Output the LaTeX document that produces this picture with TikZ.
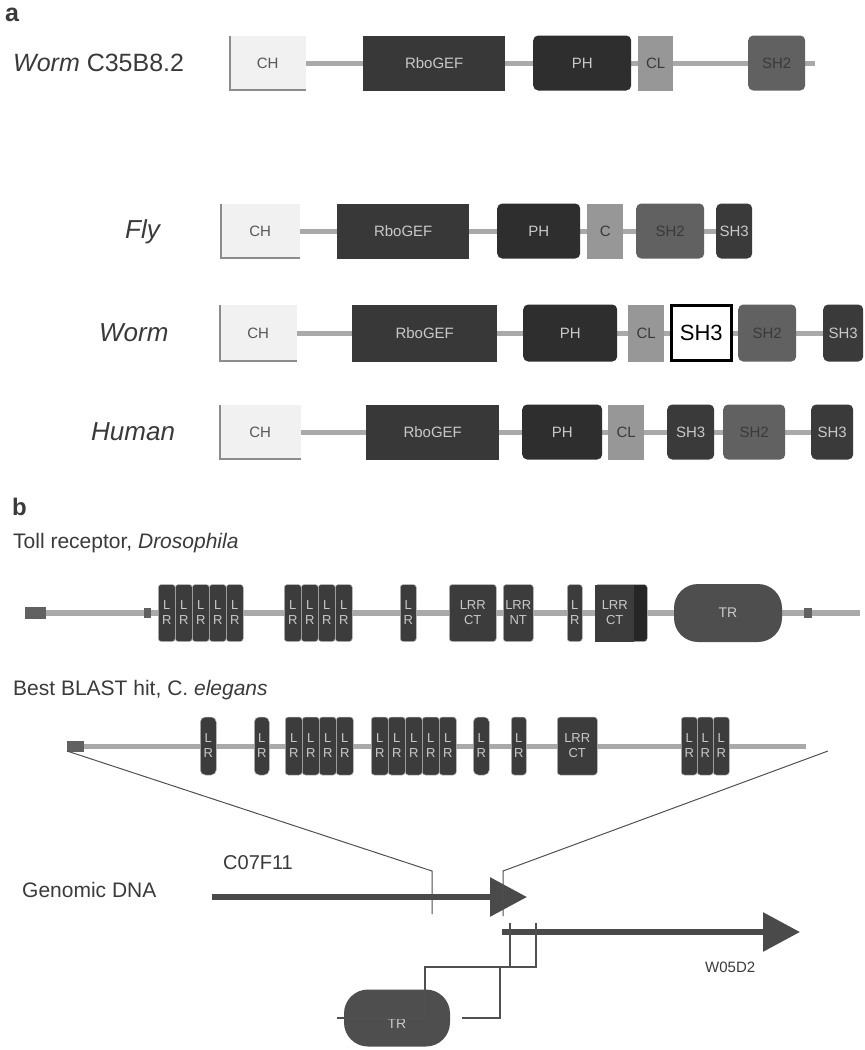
\documentclass[tikz,border=0pt]{standalone}
\usepackage{fontspec}
\setmainfont{Liberation Sans}
\usetikzlibrary{backgrounds,arrows.meta}

\definecolor{bbone}{HTML}{A9A9A9}
\definecolor{chfill}{HTML}{F1F1F1}
\definecolor{chedge}{HTML}{8C8C8C}
\definecolor{gefc}{HTML}{383838}
\definecolor{phc}{HTML}{2E2E2E}
\definecolor{clc}{HTML}{979797}
\definecolor{shtwoc}{HTML}{616161}
\definecolor{shthreec}{HTML}{3A3A3A}
\definecolor{lrc}{HTML}{3C3C3C}
\definecolor{trc}{HTML}{4E4E4E}
\definecolor{lighttxt}{HTML}{C9C9C9}
\definecolor{darktxt}{HTML}{3A3A3A}
\definecolor{wire}{HTML}{505050}
\definecolor{dnac}{HTML}{4A4A4A}

\tikzset{
  dom/.style={inner sep=0pt, anchor=west, minimum height=55pt,
    font=\fontsize{15}{17}\selectfont},
  chbox/.style={dom, fill=chfill, text=darktxt!85,
    path picture={\draw[chedge, line width=3pt]
      (path picture bounding box.north west) --
      (path picture bounding box.south west) --
      (path picture bounding box.south east);}},
  gefbox/.style={dom, fill=gefc, text=lighttxt},
  phbox/.style={dom, fill=phc, rounded corners=5pt, text=lighttxt},
  clbox/.style={dom, fill=clc, text=darktxt},
  shtwobox/.style={dom, fill=shtwoc, rounded corners=5pt, text=darktxt},
  shthreebox/.style={dom, fill=shthreec, rounded corners=5pt, text=lighttxt},
  openbox/.style={dom, fill=white, draw=black, line width=2.5pt,
    font=\fontsize{22}{24}\selectfont, text=black},
  backbone/.style={bbone, line width=5pt},
  lrbox/.style={inner sep=0pt, anchor=west, fill=lrc, draw=gray!55,
    line width=0.5pt, rounded corners=3pt, minimum height=57pt,
    text=lighttxt, align=center, font=\fontsize{13}{15}\selectfont},
  trbox/.style={inner sep=0pt, fill=trc, rounded corners=24pt,
    text=lighttxt, font=\fontsize{14}{16}\selectfont},
  endbox/.style={inner sep=0pt, anchor=west, fill=black!62},
  rowlabel/.style={anchor=west, text=darktxt, inner sep=0pt,
    font=\fontsize{25}{28}\selectfont},
  caption/.style={anchor=west, text=darktxt, inner sep=0pt,
    font=\fontsize{21}{24}\selectfont},
  panel/.style={anchor=west, text=darktxt, inner sep=0pt,
    font=\fontsize{25}{28}\selectfont\bfseries},
  wireline/.style={wire, line width=1.3pt},
  dnaarrow/.style={dnac, line width=6pt,
    -{Triangle[length=37pt, width=38pt]}},
}

\begin{document}
\begin{tikzpicture}[x=1pt, y=-1pt]
\path[use as bounding box] (0,0) rectangle (865,1050);

% ---------------- panel a ----------------
\node[panel] (pa) at (5,15) {a};

% Worm C35B8.2
\node[rowlabel] (lab1) at (13,63) {\textit{Worm} C35B8.2};
\node[chbox, minimum width=77pt] (r1ch) at (229,63) {CH};
\node[gefbox, minimum width=142pt] (r1gef) at (363,63) {RboGEF};
\node[phbox, minimum width=98pt] (r1ph) at (533,63) {PH};
\node[clbox, minimum width=35pt] (r1cl) at (638,63) {CL};
\node[shtwobox, minimum width=57pt] (r1sh2) at (748,63) {SH2};
\coordinate (r1end) at (815,63);
\begin{pgfonlayer}{background}
  \draw[backbone] (r1ch.east) -- (r1end);
\end{pgfonlayer}

% Fly
\node[rowlabel, font=\fontsize{26}{28}\selectfont\itshape] (lab2) at (125,232) {Fly};
\node[chbox, minimum width=80pt] (r2ch) at (220,231) {CH};
\node[gefbox, minimum width=132pt] (r2gef) at (337,231) {RboGEF};
\node[phbox, minimum width=83pt] (r2ph) at (497,231) {PH};
\node[clbox, minimum width=36pt] (r2c) at (587,231) {C};
\node[shtwobox, minimum width=68pt] (r2sh2) at (636,231) {SH2};
\node[shthreebox, minimum width=36pt] (r2sh3) at (716,231) {SH3};
\begin{pgfonlayer}{background}
  \draw[backbone] (r2ch.east) -- (r2sh3.west);
\end{pgfonlayer}

% Worm
\node[rowlabel, font=\fontsize{26}{28}\selectfont\itshape] (lab3) at (99,333) {Worm};
\node[chbox, minimum width=78pt, minimum height=57pt] (r3ch) at (219,333) {CH};
\node[gefbox, minimum width=145pt, minimum height=57pt] (r3gef) at (352,333) {RboGEF};
\node[phbox, minimum width=94pt, minimum height=57pt] (r3ph) at (523,333) {PH};
\node[clbox, minimum width=36pt, minimum height=57pt] (r3cl) at (628,333) {CL};
\node[openbox, minimum width=60pt, minimum height=55pt] (r3sh3a) at (670,333) {SH3};
\node[shtwobox, minimum width=58pt, minimum height=57pt] (r3sh2) at (738,333) {SH2};
\node[shthreebox, minimum width=40pt, minimum height=57pt] (r3sh3b) at (823,333) {SH3};
\begin{pgfonlayer}{background}
  \draw[backbone] (r3ch.east) -- (r3sh3b.west);
\end{pgfonlayer}

% Human
\node[rowlabel, font=\fontsize{26}{28}\selectfont\itshape] (lab4) at (91,432) {Human};
\node[chbox, minimum width=82pt] (r4ch) at (219,432) {CH};
\node[gefbox, minimum width=133pt] (r4gef) at (366,432) {RboGEF};
\node[phbox, minimum width=80pt] (r4ph) at (522,432) {PH};
\node[clbox, minimum width=36pt] (r4cl) at (608,432) {CL};
\node[shthreebox, minimum width=47pt] (r4sh3a) at (667,432) {SH3};
\node[shtwobox, minimum width=62pt] (r4sh2) at (723,432) {SH2};
\node[shthreebox, minimum width=42pt] (r4sh3b) at (811,432) {SH3};
\begin{pgfonlayer}{background}
  \draw[backbone] (r4ch.east) -- (r4sh3b.west);
\end{pgfonlayer}

% ---------------- panel b ----------------
\node[panel, font=\fontsize{24}{26}\selectfont\bfseries] (pb) at (12,507) {b};
\node[caption] (tollcap) at (13,543) {Toll receptor, \textit{Drosophila}};

% Toll receptor
\node[endbox, minimum width=21pt, minimum height=12pt] (tL) at (25,613) {};
\node[endbox, minimum width=7pt, minimum height=10pt] (tq1) at (144,613) {};
\foreach \x [count=\i] in {158,175,192,209,226}
  \node[lrbox, minimum width=17pt] (ta\i) at (\x,613) {L\\R};
\foreach \x [count=\i] in {284,301,318,335}
  \node[lrbox, minimum width=17pt] (tb\i) at (\x,613) {L\\R};
\node[lrbox, minimum width=16pt] (tc) at (400,613) {L\\R};
\node[lrbox, minimum width=47pt] (tct1) at (449,613) {LRR\\CT};
\node[lrbox, minimum width=30pt] (tnt) at (503,613) {LRR\\NT};
\node[lrbox, minimum width=15pt] (td) at (567,613) {L\\R};
\node[lrbox, minimum width=52pt, fill=black!85, text=black!85] (tct2x) at (595,613) {};
\node[lrbox, minimum width=39pt, rounded corners=0pt, draw=none] (tct2) at (595,613) {LRR\\CT};
\node[trbox, minimum width=108pt, minimum height=58pt] (ttr) at (728,613) {TR};
\node[endbox, minimum width=8pt, minimum height=10pt] (tq2) at (804,613) {};
\coordinate (tend) at (860,613);
\begin{pgfonlayer}{background}
  \draw[backbone, line width=5.5pt] (tL.west) -- (tend);
\end{pgfonlayer}

% Best BLAST hit
\node[caption] (blastcap) at (13,690) {Best BLAST hit, C. \textit{elegans}};
\node[endbox, minimum width=17pt, minimum height=11pt] (bL) at (67,746) {};
\node[lrbox, minimum width=16pt, minimum height=58pt, rounded corners=5pt] (ba) at (200,746) {L\\R};
\node[lrbox, minimum width=15pt, minimum height=58pt, rounded corners=5pt] (bb) at (254,746) {L\\R};
\foreach \x [count=\i] in {285,302,319,336}
  \node[lrbox, minimum width=17pt, minimum height=58pt] (bc\i) at (\x,746) {L\\R};
\foreach \x [count=\i] in {371,388,405,422,439}
  \node[lrbox, minimum width=17pt, minimum height=58pt] (bd\i) at (\x,746) {L\\R};
\node[lrbox, minimum width=16pt, minimum height=58pt, rounded corners=5pt] (be) at (473,746) {L\\R};
\node[lrbox, minimum width=15pt, minimum height=58pt] (bf) at (511,746) {L\\R};
\node[lrbox, minimum width=40pt, minimum height=58pt] (bct) at (557,746) {LRR\\CT};
\foreach \x [count=\i] in {681,697,713}
  \node[lrbox, minimum width=16pt, minimum height=58pt] (bg\i) at (\x,746) {L\\R};
\coordinate (bend) at (806,746);
\begin{pgfonlayer}{background}
  \draw[backbone] (bL.west) -- (bend);
\end{pgfonlayer}

% lines from the hit down to the genomic locus
\coordinate (zl0) at (67,751);
\coordinate (zl1) at (432,871);
\coordinate (zl2) at (432,914);
\coordinate (zr0) at (828,751);
\coordinate (zr1) at (503,871);
\coordinate (zr2) at (503,916);

% Genomic DNA
\node[caption] (gdna) at (22,890) {Genomic DNA};
\node[caption, font=\fontsize{20}{22}\selectfont] (c07) at (223,863) {C07F11};
\coordinate (c07s) at (212,897);
\coordinate (c07e) at (527,897);
\draw[dnaarrow] (c07s) -- (c07e);
\coordinate (w05s) at (502,932);
\coordinate (w05e) at (800,932);
\draw[dnaarrow] (w05s) -- (w05e);
\node[caption, font=\fontsize{15}{17}\selectfont] (w05) at (705,967) {W05D2};

\draw[wireline, line width=1pt] (zl0) -- (zl1) -- (zl2);
\draw[wireline, line width=1pt] (zr0) -- (zr1) -- (zr2);

% TR encoded on W05D2
\node[trbox, minimum width=106pt, minimum height=57pt] (btr) at (397,1018) {\raisebox{-10pt}[0pt][0pt]{TR}};
\coordinate (s1) at (510,923);
\coordinate (s2) at (536,923);
\coordinate (s3) at (510,967);
\coordinate (s4) at (536,967);
\coordinate (s5) at (425,967);
\coordinate (s6) at (425,1018);
\coordinate (s7) at (337,1018);
\coordinate (s8) at (500,967);
\coordinate (s9) at (500,1018);
\coordinate (s10) at (462,1018);
\draw[wireline] (s1) -- (s3);
\draw[wireline] (s2) -- (s4) -- (s5) -- (s6) -- (s7);
\draw[wireline] (s8) -- (s9) -- (s10);
\end{tikzpicture}
\end{document}
